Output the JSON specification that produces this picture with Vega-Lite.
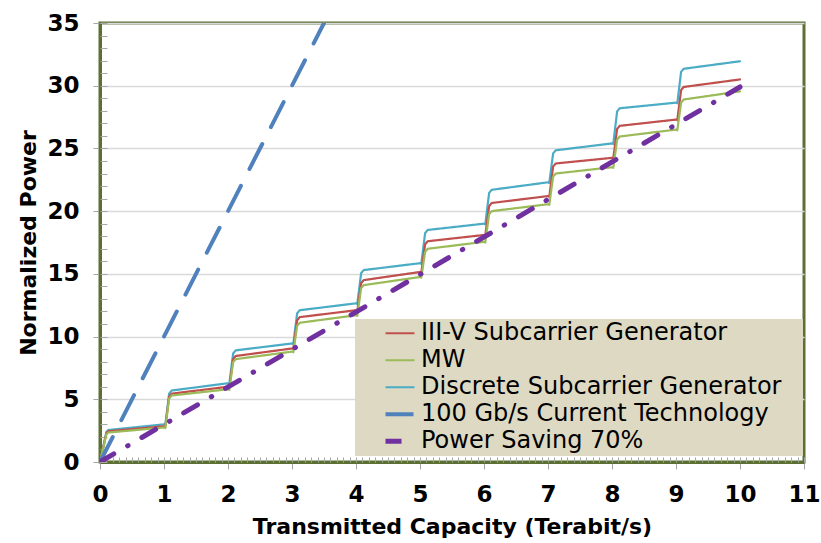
{
  "$schema": "https://vega.github.io/schema/vega-lite/v6.json",
  "autosize": {"type": "none"},
  "padding": {"left": 100, "top": 23, "right": 17, "bottom": 81},
  "width": 704,
  "height": 439,
  "config": {
    "font": "DejaVu Sans",
    "view": {"stroke": "#5B7032", "strokeWidth": 3},
    "axis": {"labelColor": "#000000", "titleColor": "#000000"}
  },
  "data": {
    "values": [
      {"s": "Discrete Subcarrier Generator", "x": 0, "y": 0},
      {"s": "Discrete Subcarrier Generator", "x": 0.1, "y": 2.4},
      {"s": "Discrete Subcarrier Generator", "x": 0.13, "y": 2.55},
      {"s": "Discrete Subcarrier Generator", "x": 1.0, "y": 3.0},
      {"s": "Discrete Subcarrier Generator", "x": 1.02, "y": 2.95},
      {"s": "Discrete Subcarrier Generator", "x": 1.08, "y": 5.45},
      {"s": "Discrete Subcarrier Generator", "x": 1.12, "y": 5.7},
      {"s": "Discrete Subcarrier Generator", "x": 2.0, "y": 6.28},
      {"s": "Discrete Subcarrier Generator", "x": 2.02, "y": 6.23},
      {"s": "Discrete Subcarrier Generator", "x": 2.08, "y": 8.65},
      {"s": "Discrete Subcarrier Generator", "x": 2.12, "y": 8.9},
      {"s": "Discrete Subcarrier Generator", "x": 3.0, "y": 9.45},
      {"s": "Discrete Subcarrier Generator", "x": 3.02, "y": 9.4},
      {"s": "Discrete Subcarrier Generator", "x": 3.08, "y": 11.85},
      {"s": "Discrete Subcarrier Generator", "x": 3.12, "y": 12.1},
      {"s": "Discrete Subcarrier Generator", "x": 4.0, "y": 12.65},
      {"s": "Discrete Subcarrier Generator", "x": 4.02, "y": 12.6},
      {"s": "Discrete Subcarrier Generator", "x": 4.08, "y": 15.05},
      {"s": "Discrete Subcarrier Generator", "x": 4.12, "y": 15.3},
      {"s": "Discrete Subcarrier Generator", "x": 5.0, "y": 15.85},
      {"s": "Discrete Subcarrier Generator", "x": 5.02, "y": 15.8},
      {"s": "Discrete Subcarrier Generator", "x": 5.08, "y": 18.25},
      {"s": "Discrete Subcarrier Generator", "x": 5.12, "y": 18.5},
      {"s": "Discrete Subcarrier Generator", "x": 6.0, "y": 19.0},
      {"s": "Discrete Subcarrier Generator", "x": 6.02, "y": 18.95},
      {"s": "Discrete Subcarrier Generator", "x": 6.08, "y": 21.45},
      {"s": "Discrete Subcarrier Generator", "x": 6.12, "y": 21.7},
      {"s": "Discrete Subcarrier Generator", "x": 7.0, "y": 22.3},
      {"s": "Discrete Subcarrier Generator", "x": 7.02, "y": 22.25},
      {"s": "Discrete Subcarrier Generator", "x": 7.08, "y": 24.6},
      {"s": "Discrete Subcarrier Generator", "x": 7.12, "y": 24.85},
      {"s": "Discrete Subcarrier Generator", "x": 8.0, "y": 25.4},
      {"s": "Discrete Subcarrier Generator", "x": 8.02, "y": 25.35},
      {"s": "Discrete Subcarrier Generator", "x": 8.08, "y": 27.95},
      {"s": "Discrete Subcarrier Generator", "x": 8.12, "y": 28.2},
      {"s": "Discrete Subcarrier Generator", "x": 9.0, "y": 28.65},
      {"s": "Discrete Subcarrier Generator", "x": 9.02, "y": 28.6},
      {"s": "Discrete Subcarrier Generator", "x": 9.08, "y": 31.1},
      {"s": "Discrete Subcarrier Generator", "x": 9.12, "y": 31.35},
      {"s": "Discrete Subcarrier Generator", "x": 10.0, "y": 31.95},

      {"s": "III-V Subcarrier Generator", "x": 0, "y": 0},
      {"s": "III-V Subcarrier Generator", "x": 0.1, "y": 2.3},
      {"s": "III-V Subcarrier Generator", "x": 0.13, "y": 2.45},
      {"s": "III-V Subcarrier Generator", "x": 1.0, "y": 2.85},
      {"s": "III-V Subcarrier Generator", "x": 1.02, "y": 2.8},
      {"s": "III-V Subcarrier Generator", "x": 1.08, "y": 5.2},
      {"s": "III-V Subcarrier Generator", "x": 1.12, "y": 5.45},
      {"s": "III-V Subcarrier Generator", "x": 2.0, "y": 6.0},
      {"s": "III-V Subcarrier Generator", "x": 2.02, "y": 5.95},
      {"s": "III-V Subcarrier Generator", "x": 2.08, "y": 8.2},
      {"s": "III-V Subcarrier Generator", "x": 2.12, "y": 8.45},
      {"s": "III-V Subcarrier Generator", "x": 3.0, "y": 9.05},
      {"s": "III-V Subcarrier Generator", "x": 3.02, "y": 9.0},
      {"s": "III-V Subcarrier Generator", "x": 3.08, "y": 11.3},
      {"s": "III-V Subcarrier Generator", "x": 3.12, "y": 11.55},
      {"s": "III-V Subcarrier Generator", "x": 4.0, "y": 12.1},
      {"s": "III-V Subcarrier Generator", "x": 4.02, "y": 12.05},
      {"s": "III-V Subcarrier Generator", "x": 4.08, "y": 14.25},
      {"s": "III-V Subcarrier Generator", "x": 4.12, "y": 14.5},
      {"s": "III-V Subcarrier Generator", "x": 5.0, "y": 15.15},
      {"s": "III-V Subcarrier Generator", "x": 5.02, "y": 15.1},
      {"s": "III-V Subcarrier Generator", "x": 5.08, "y": 17.35},
      {"s": "III-V Subcarrier Generator", "x": 5.12, "y": 17.6},
      {"s": "III-V Subcarrier Generator", "x": 6.0, "y": 18.1},
      {"s": "III-V Subcarrier Generator", "x": 6.02, "y": 18.05},
      {"s": "III-V Subcarrier Generator", "x": 6.08, "y": 20.4},
      {"s": "III-V Subcarrier Generator", "x": 6.12, "y": 20.65},
      {"s": "III-V Subcarrier Generator", "x": 7.0, "y": 21.2},
      {"s": "III-V Subcarrier Generator", "x": 7.02, "y": 21.15},
      {"s": "III-V Subcarrier Generator", "x": 7.08, "y": 23.55},
      {"s": "III-V Subcarrier Generator", "x": 7.12, "y": 23.8},
      {"s": "III-V Subcarrier Generator", "x": 8.0, "y": 24.25},
      {"s": "III-V Subcarrier Generator", "x": 8.02, "y": 24.2},
      {"s": "III-V Subcarrier Generator", "x": 8.08, "y": 26.55},
      {"s": "III-V Subcarrier Generator", "x": 8.12, "y": 26.8},
      {"s": "III-V Subcarrier Generator", "x": 9.0, "y": 27.3},
      {"s": "III-V Subcarrier Generator", "x": 9.02, "y": 27.25},
      {"s": "III-V Subcarrier Generator", "x": 9.08, "y": 29.65},
      {"s": "III-V Subcarrier Generator", "x": 9.12, "y": 29.9},
      {"s": "III-V Subcarrier Generator", "x": 10.0, "y": 30.5},

      {"s": "MW", "x": 0, "y": 0},
      {"s": "MW", "x": 0.1, "y": 2.2},
      {"s": "MW", "x": 0.13, "y": 2.35},
      {"s": "MW", "x": 1.0, "y": 2.75},
      {"s": "MW", "x": 1.02, "y": 2.7},
      {"s": "MW", "x": 1.08, "y": 5.05},
      {"s": "MW", "x": 1.12, "y": 5.3},
      {"s": "MW", "x": 2.0, "y": 5.8},
      {"s": "MW", "x": 2.02, "y": 5.75},
      {"s": "MW", "x": 2.08, "y": 7.95},
      {"s": "MW", "x": 2.12, "y": 8.2},
      {"s": "MW", "x": 3.0, "y": 8.8},
      {"s": "MW", "x": 3.02, "y": 8.75},
      {"s": "MW", "x": 3.08, "y": 10.85},
      {"s": "MW", "x": 3.12, "y": 11.1},
      {"s": "MW", "x": 4.0, "y": 11.7},
      {"s": "MW", "x": 4.02, "y": 11.65},
      {"s": "MW", "x": 4.08, "y": 13.85},
      {"s": "MW", "x": 4.12, "y": 14.1},
      {"s": "MW", "x": 5.0, "y": 14.75},
      {"s": "MW", "x": 5.02, "y": 14.7},
      {"s": "MW", "x": 5.08, "y": 16.75},
      {"s": "MW", "x": 5.12, "y": 17.0},
      {"s": "MW", "x": 6.0, "y": 17.55},
      {"s": "MW", "x": 6.02, "y": 17.5},
      {"s": "MW", "x": 6.08, "y": 19.75},
      {"s": "MW", "x": 6.12, "y": 20.0},
      {"s": "MW", "x": 7.0, "y": 20.55},
      {"s": "MW", "x": 7.02, "y": 20.5},
      {"s": "MW", "x": 7.08, "y": 22.75},
      {"s": "MW", "x": 7.12, "y": 23.0},
      {"s": "MW", "x": 8.0, "y": 23.5},
      {"s": "MW", "x": 8.02, "y": 23.45},
      {"s": "MW", "x": 8.08, "y": 25.7},
      {"s": "MW", "x": 8.12, "y": 25.95},
      {"s": "MW", "x": 9.0, "y": 26.5},
      {"s": "MW", "x": 9.02, "y": 26.45},
      {"s": "MW", "x": 9.08, "y": 28.65},
      {"s": "MW", "x": 9.12, "y": 28.9},
      {"s": "MW", "x": 10.0, "y": 29.55},

      {"s": "100 Gb/s Current Technology", "x": 0, "y": 0},
      {"s": "100 Gb/s Current Technology", "x": 3.5, "y": 35},

      {"s": "Power Saving 70%", "x": 0, "y": 0},
      {"s": "Power Saving 70%", "x": 10, "y": 29.9}
    ]
  },
  "resolve": {"axis": {"x": "independent", "y": "independent"}},
  "layer": [
    {
      "mark": {"type": "line", "strokeCap": "round", "strokeJoin": "round", "clip": true},
      "encoding": {
        "x": {
          "field": "x", "type": "quantitative",
          "scale": {"domain": [0, 11], "nice": false, "zero": false},
          "axis": {
            "values": [0, 1, 2, 3, 4, 5, 6, 7, 8, 9, 10, 11],
            "title": "Transmitted Capacity (Terabit/s)",
            "titleFontSize": 22, "titleFontWeight": "bold", "titlePadding": 10,
            "labelFontSize": 23, "labelFontWeight": "bold", "labelPadding": 14,
            "labelFlush": false, "labelOverlap": false,
            "tickSize": 7, "tickColor": "#A6A6A6", "tickWidth": 1,
            "domainColor": "#5B7032", "domainWidth": 3, "grid": false
          }
        },
        "y": {
          "field": "y", "type": "quantitative",
          "scale": {"domain": [0, 35], "nice": false},
          "axis": {
            "values": [0, 5, 10, 15, 20, 25, 30, 35],
            "title": "Normalized Power",
            "titleFontSize": 22, "titleFontWeight": "bold", "titlePadding": 6,
            "labelFontSize": 23, "labelFontWeight": "bold", "labelPadding": 14,
            "labelFlush": false, "labelOverlap": false,
            "tickSize": 7, "tickColor": "#A6A6A6", "tickWidth": 1,
            "domainColor": "#5B7032", "domainWidth": 3,
            "grid": true, "gridColor": "#D9D9D9", "gridWidth": 1.5
          }
        },
        "color": {
          "field": "s", "type": "nominal",
          "scale": {
            "domain": ["III-V Subcarrier Generator", "MW", "Discrete Subcarrier Generator", "100 Gb/s Current Technology", "Power Saving 70%"],
            "range": ["#C0504D", "#9BBB59", "#4BACC6", "#4F81BD", "#7030A0"]
          },
          "legend": {
            "title": " ", "titleOrient": "right", "titleFontSize": 1, "titlePadding": 21,
            "orient": "none", "legendX": 255, "legendY": 296,
            "fillColor": "#DDD9C3", "padding": 1,
            "symbolType": "stroke", "symbolSize": 841, "symbolOffset": 27,
            "labelFontSize": 24, "labelColor": "#000000", "labelOffset": 4,
            "labelLimit": 500, "rowPadding": 0, "clipHeight": 26.5
          }
        },
        "strokeDash": {
          "field": "s", "type": "nominal",
          "scale": {
            "domain": ["III-V Subcarrier Generator", "MW", "Discrete Subcarrier Generator", "100 Gb/s Current Technology", "Power Saving 70%"],
            "range": [[1, 0], [1, 0], [1, 0], [28, 19], [16, 16, 0.5, 16]]
          },
          "legend": {"title": " "}
        },
        "strokeWidth": {
          "field": "s", "type": "ordinal",
          "sort": ["III-V Subcarrier Generator", "MW", "Discrete Subcarrier Generator", "100 Gb/s Current Technology", "Power Saving 70%"],
          "scale": {
            "type": "ordinal",
            "domain": ["III-V Subcarrier Generator", "MW", "Discrete Subcarrier Generator", "100 Gb/s Current Technology", "Power Saving 70%"],
            "range": [2.2, 2.2, 2.2, 4, 5]
          },
          "legend": {"title": " "}
        }
      }
    },
    {
      "mark": {"type": "point", "opacity": 0},
      "encoding": {
        "x": {
          "field": "x", "type": "quantitative",
          "axis": {
            "orient": "bottom", "tickCount": 110, "tickSize": -5, "tickColor": "#A6A6A6",
            "labels": false, "domain": false, "grid": false, "title": null
          }
        },
        "y": {
          "field": "y", "type": "quantitative",
          "axis": {
            "orient": "left", "tickCount": 35, "tickSize": -7, "tickColor": "#A6A6A6",
            "labels": false, "domain": false, "grid": false, "title": null
          }
        }
      }
    }
  ]
}
